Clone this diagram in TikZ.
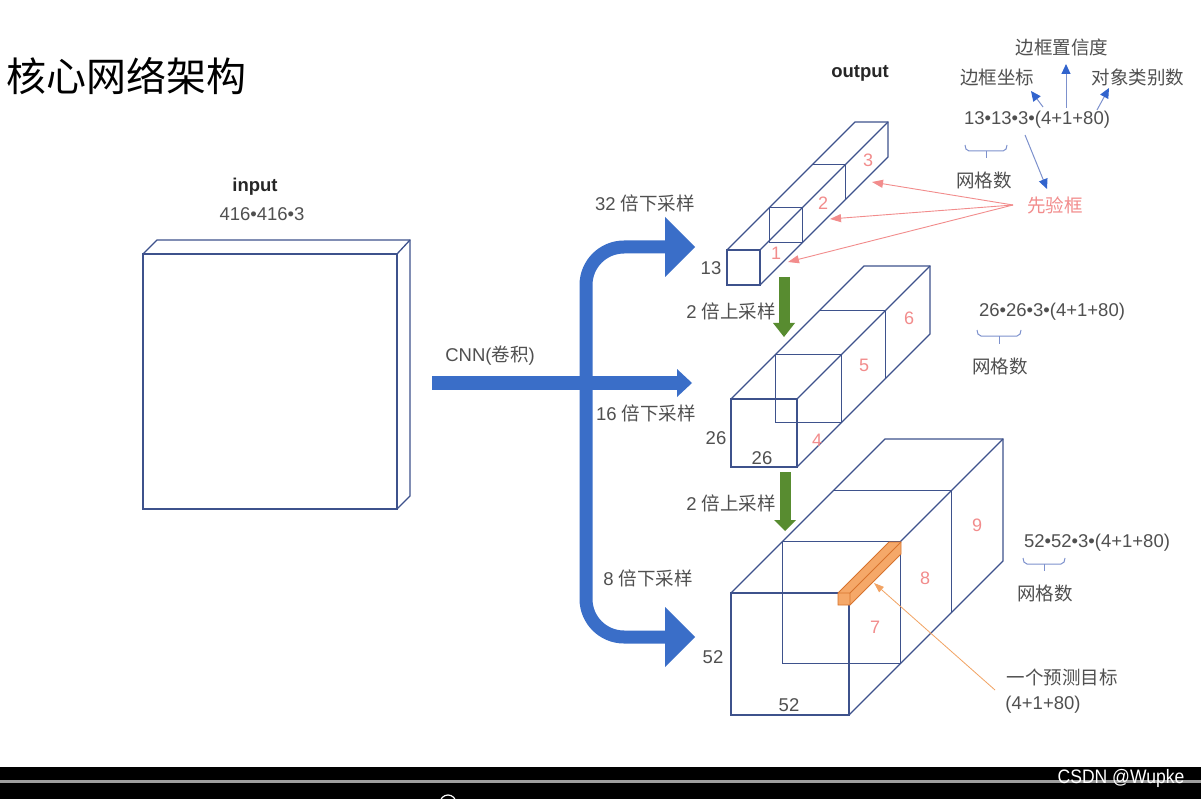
\documentclass[tikz,border=0pt]{standalone}
\usepackage{fontspec}
\setmainfont{Liberation Sans}
\newfontfamily\cjk{Noto Sans CJK SC}
\usetikzlibrary{arrows.meta}
\definecolor{boxblue}{RGB}{62,82,140}
\definecolor{bigblue}{RGB}{58,110,200}
\definecolor{txtgray}{RGB}{80,80,80}
\definecolor{pinkc}{RGB}{242,140,140}
\definecolor{greenc}{RGB}{88,140,48}
\definecolor{orangef}{RGB}{245,168,105}
\definecolor{oranged}{RGB}{215,115,45}
\definecolor{annblue}{RGB}{125,145,205}
\definecolor{headblue}{RGB}{50,100,205}
\tikzset{
  edge/.style={draw=boxblue, line width=1.3pt},
  lbl/.style={text=txtgray, font=\fontsize{18.5}{18.5}\selectfont, inner sep=0pt},
  cn/.style={text=txtgray, font=\cjk\fontsize{18.5}{18.5}\selectfont, inner sep=0pt},
  num/.style={text=pinkc, font=\fontsize{18}{18}\selectfont, inner sep=0pt},
  bold/.style={text=black!85, font=\bfseries\fontsize{18.5}{18.5}\selectfont, inner sep=0pt},
  annarrow/.style={draw=annblue, line width=1pt, -{Triangle[length=10pt,width=9pt,fill=headblue,color=headblue]}},
  pinkarrow/.style={draw=pinkc, line width=0.9pt, -{Triangle[length=11pt,width=8pt]}},
  brace/.style={draw=annblue, line width=1pt},
}
\newcommand\cubebox[5]{%
  \draw[edge] (#1,#2) rectangle ++(#3,#4);
  \draw[edge] (#1,#2) -- ++(#5,-#5) -- ++(#3,0) -- ++(0,#4) -- ++(-#5,#5);
  \draw[edge] ({#1+#3},#2) -- ++(#5,-#5);
  \draw[edge] ({#1+#5/3},{#2-#5/3}) rectangle ++(#3,#4);
  \draw[edge] ({#1+2*#5/3},{#2-2*#5/3}) -- ++(#3,0) -- ++(0,#4);
}
\newcommand\gridbrace[4]{% x1 x2 ytop ytick
  \draw[brace] (#1,#3) to[out=-90,in=180] ({#1+4},{#3+6}) -- ({#2-4},{#3+6}) to[out=0,in=-90] (#2,#3);
  \draw[brace] ({(#1+#2)/2},{#3+6}) -- ({(#1+#2)/2},#4);
}
\begin{document}
\begin{tikzpicture}[x=1pt,y=-1pt]
\useasboundingbox (0,0) rectangle (1201,799);
\fill[white] (0,0) rectangle (1201,767);
% bottom bar
\fill[black] (0,767) rectangle (1201,799);
\fill[gray!75] (0,780) rectangle (1201,783);
\node[text=white, font=\fontsize{19.5}{19.5}\selectfont, inner sep=0pt, xscale=0.9] (wm) at (1121,778) {CSDN @Wupke};
\begin{scope}
\clip (0,767) rectangle (1201,799);
\draw[white, line width=1.2pt] (448,803) circle (8);
\end{scope}

% title
\node[font=\cjk\fontsize{40}{40}\selectfont, anchor=west, inner sep=0pt] (title) at (6,76) {核心网络架构};

% input
\node[bold] (inp) at (255,187) {input};
\node[lbl] (inpdim) at (262,214) {416•416•3};
\draw[edge] (143,254) rectangle (397,509);
\draw[edge] (143,254) -- (157,240) -- (410,240) -- (410,496) -- (397,509);
\draw[edge] (397,254) -- (410,240);

% big blue arrows
\coordinate (cnnA) at (432,383);
\coordinate (cnnB) at (679,383);
\coordinate (up32) at (667,247);
\coordinate (dn8) at (667,637);
\draw[bigblue, line width=14pt] (cnnA) -- (cnnB);
\fill[bigblue] (677,369) -- (692,383) -- (677,397) -- cycle;
\draw[bigblue, line width=13pt, rounded corners=38pt] (up32) -| (586,637) -- (dn8);
\fill[bigblue] (665,217) -- (695,247) -- (665,277) -- cycle;
\fill[bigblue] (665,607) -- (695,637) -- (665,667) -- cycle;
\node[lbl] (cnn) at (490,356) {CNN({\cjk 卷积})};
\node[lbl] (l32) at (645,203) {32 {\cjk 倍下采样}};
\node[lbl] (l16) at (646,413) {16 {\cjk 倍下采样}};
\node[lbl] (l8) at (648,578) {8 {\cjk 倍下采样}};
\node[lbl] (up1) at (731,311) {2 {\cjk 倍上采样}};
\node[lbl] (up2) at (731,503) {2 {\cjk 倍上采样}};

% green arrows
\coordinate (g1a) at (784,277);
\coordinate (g1b) at (784,324);
\coordinate (g2a) at (785,472);
\coordinate (g2b) at (785,521);
\draw[greenc, line width=11pt] (g1a) -- (g1b);
\fill[greenc] (773,323) -- (784,337) -- (795,323) -- cycle;
\draw[greenc, line width=11pt] (g2a) -- (g2b);
\fill[greenc] (774,520) -- (785,531) -- (796,520) -- cycle;

% output cubes
\node[bold] (out) at (860,73) {output};
\cubebox{727}{250}{33}{35}{128}
\cubebox{731}{399}{66}{68}{133}
\cubebox{731}{593}{118}{122}{154}

% orange prism
\filldraw[fill=orangef, draw=oranged, line width=0.8pt] (838,593) -- (889,542) -- (901,542) -- (901,554) -- (850,605) -- (838,605) -- cycle;
\draw[oranged, line width=0.8pt] (838,593) -- (850,593) -- (901,542) (850,593) -- (850,605);

% size labels
\node[lbl] (s13) at (711,268) {13};
\node[lbl] (s26a) at (716,438) {26};
\node[lbl] (s26b) at (762,458) {26};
\node[lbl] (s52a) at (713,657) {52};
\node[lbl] (s52b) at (789,705) {52};

% pink numbers
\node[num] (n1) at (776,253) {1};
\node[num] (n2) at (823,203) {2};
\node[num] (n3) at (868,160) {3};
\node[num] (n4) at (817,440) {4};
\node[num] (n5) at (864,365) {5};
\node[num] (n6) at (909,318) {6};
\node[num] (n7) at (875,627) {7};
\node[num] (n8) at (925,578) {8};
\node[num] (n9) at (977,525) {9};

% top annotation
\node[cn] (conf) at (1062,47) {边框置信度};
\node[cn] (coord) at (997,77) {边框坐标};
\node[cn] (cls) at (1138,77) {对象类别数};
\node[lbl] (f13) at (1037,120) {13•13•3•(4+1+80)};
\node[cn] (g13) at (984,180) {网格数};
\node[cn, text=pinkc] (prior) at (1055,205) {先验框};
\gridbrace{965}{1007}{145}{158}
\coordinate (a1s) at (1043,107); \coordinate (a1e) at (1031,91);
\coordinate (a2s) at (1066,108); \coordinate (a2e) at (1066,64);
\coordinate (a3s) at (1097,110); \coordinate (a3e) at (1109,88);
\coordinate (a4s) at (1025,135); \coordinate (a4e) at (1047,189);
\draw[annarrow] (a1s) -- (a1e);
\draw[annarrow] (a2s) -- (a2e);
\draw[annarrow] (a3s) -- (a3e);
\draw[annarrow] (a4s) -- (a4e);

% prior box arrows
\coordinate (pr) at (1013,205);
\coordinate (t3) at (872,182);
\coordinate (t2) at (830,219);
\coordinate (t1) at (788,262);
\draw[pinkarrow] (pr) -- (t3);
\draw[pinkarrow] (pr) -- (t2);
\draw[pinkarrow] (pr) -- (t1);

% 26 annotation
\node[lbl] (f26) at (1052,312) {26•26•3•(4+1+80)};
\gridbrace{977}{1021}{330}{344}
\node[cn] (g26) at (1000,366) {网格数};

% 52 annotation
\node[lbl] (f52) at (1097,543) {52•52•3•(4+1+80)};
\gridbrace{1023}{1065}{558}{571}
\node[cn] (g52) at (1045,593) {网格数};

% one prediction target
\node[cn] (pred) at (1062,677) {一个预测目标};
\node[lbl] (predv) at (1043,705) {(4+1+80)};
\coordinate (os) at (995,690);
\coordinate (oe) at (874,583);
\draw[draw=orangef!90!oranged, line width=0.8pt, -{Triangle[length=10pt,width=7pt]}] (os) -- (oe);
\end{tikzpicture}
\end{document}
